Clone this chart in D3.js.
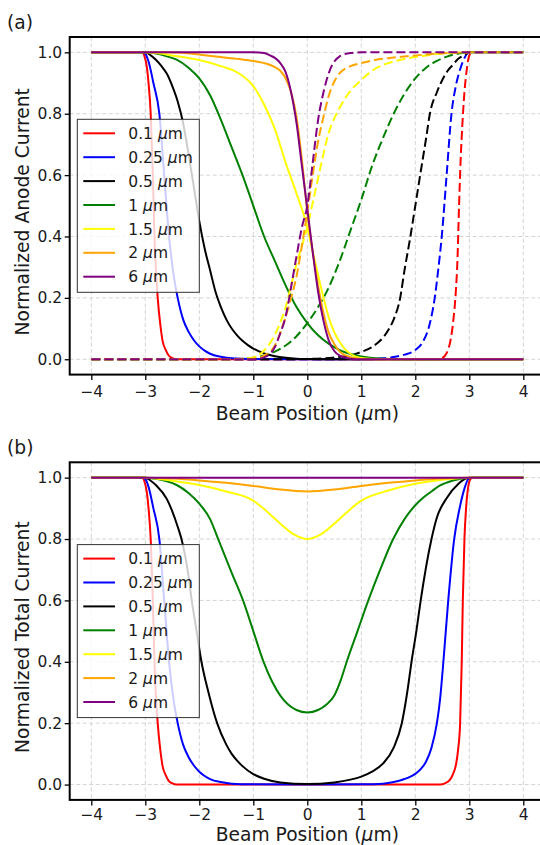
<!DOCTYPE html>
<html>
<head>
<meta charset="utf-8">
<script src="https://cdn.jsdelivr.net/npm/d3@7"></script>
<style>
  body { margin: 0; background: #fff; }
  svg { display: block; font-family: "DejaVu Sans", sans-serif; }
</style>
</head>
<body>
<svg id="chart" width="540" height="845"></svg>
<script>
// beam sizes shown in the legends
var sizes = ["0.1", "0.25", "0.5", "1", "1.5", "2", "6"];
var colors = ["#ff0000", "#0000ff", "#000000", "#008000", "#ffff00", "#ffa500", "#800080"];

var xTicks = [-4, -3, -2, -1, 0, 1, 2, 3, 4];
var yTicks = [0, 0.2, 0.4, 0.6, 0.8, 1.0];

// (a) anode current, solid curves  [beam position, current]
var anodeSolid01 = [[-4,1],[-3.06,1],[-3.02,0.99],[-2.97,0.95],[-2.94,0.9],[-2.9,0.8],[-2.86,0.6],[-2.83,0.4],[-2.77,0.2],[-2.72,0.11],[-2.68,0.06],[-2.62,0.03],[-2.57,0.013],[-2.5,0.004],[-2.42,0],[4,0]];
var anodeSolid025 = [[-4,1],[-3.05,1],[-3.0,0.995],[-2.94,0.97],[-2.85,0.9],[-2.74,0.8],[-2.65,0.6],[-2.56,0.4],[-2.48,0.28],[-2.4,0.2],[-2.3,0.13],[-2.2,0.09],[-2.1,0.062],[-2.0,0.042],[-1.9,0.028],[-1.8,0.018],[-1.6,0.008],[-1.4,0.003],[-1.0,0.001],[0,0],[4,0]];
var anodeSolid05 = [[-4,1],[-3.0,1],[-2.9,0.99],[-2.8,0.975],[-2.7,0.955],[-2.6,0.93],[-2.5,0.89],[-2.4,0.84],[-2.3,0.77],[-2.2,0.67],[-2.1,0.56],[-2.0,0.45],[-1.9,0.36],[-1.8,0.29],[-1.7,0.22],[-1.6,0.17],[-1.5,0.13],[-1.4,0.1],[-1.3,0.078],[-1.2,0.06],[-1.1,0.046],[-1.0,0.035],[-0.8,0.019],[-0.6,0.01],[-0.4,0.005],[-0.2,0.002],[0,0.001],[0.5,0],[4,0]];
var anodeSolid1 = [[-4,1],[-3.0,1],[-2.8,0.996],[-2.6,0.987],[-2.42,0.976],[-2.2,0.95],[-2.0,0.915],[-1.8,0.86],[-1.6,0.78],[-1.4,0.69],[-1.2,0.6],[-1.0,0.5],[-0.8,0.4],[-0.6,0.32],[-0.4,0.24],[-0.2,0.17],[0,0.118],[0.2,0.078],[0.4,0.05],[0.6,0.03],[0.8,0.017],[1.0,0.009],[1.2,0.004],[1.5,0.001],[2.0,0],[4,0]];
var anodeSolid15 = [[-4,1],[-3.0,1],[-2.8,0.998],[-2.5,0.99],[-2.0,0.975],[-1.6,0.955],[-1.3,0.935],[-1.0,0.89],[-0.8,0.83],[-0.6,0.75],[-0.4,0.64],[-0.2,0.54],[0,0.43],[0.1,0.35],[0.2,0.275],[0.3,0.2],[0.4,0.135],[0.5,0.088],[0.6,0.056],[0.7,0.032],[0.85,0.012],[1.0,0.004],[1.2,0.001],[1.5,0],[4,0]];
var anodeSolid2 = [[-4,1],[-2.6,1],[-2.0,0.993],[-1.74,0.987],[-1.25,0.978],[-1.0,0.972],[-0.75,0.963],[-0.6,0.952],[-0.5,0.94],[-0.4,0.915],[-0.3,0.87],[-0.2,0.79],[-0.1,0.65],[0,0.48],[0.1,0.35],[0.2,0.24],[0.3,0.15],[0.4,0.085],[0.5,0.05],[0.6,0.025],[0.75,0.01],[0.9,0.003],[1.1,0],[4,0]];
var anodeSolid6 = [[-4,1],[-1.0,1],[-0.8,0.998],[-0.69,0.99],[-0.6,0.982],[-0.5,0.965],[-0.4,0.935],[-0.3,0.87],[-0.2,0.77],[-0.1,0.63],[0,0.49],[0.1,0.35],[0.2,0.22],[0.3,0.125],[0.4,0.06],[0.5,0.027],[0.6,0.012],[0.8,0.002],[1.0,0],[4,0]];

// (a) anode current, dashed curves
var anodeDash01 = [[-4,0],[2.42,0],[2.5,0.004],[2.58,0.02],[2.65,0.06],[2.7,0.12],[2.75,0.22],[2.78,0.32],[2.81,0.5],[2.84,0.65],[2.87,0.76],[2.91,0.87],[2.95,0.94],[3.0,0.99],[3.05,1],[4,1]];
var anodeDash025 = [[-4,0],[0,0],[1.0,0.001],[1.4,0.003],[1.6,0.007],[1.8,0.015],[2.0,0.03],[2.15,0.06],[2.27,0.117],[2.36,0.2],[2.43,0.3],[2.49,0.4],[2.58,0.6],[2.67,0.8],[2.75,0.89],[2.84,0.95],[2.92,0.985],[3.0,1],[4,1]];
var anodeDash05 = [[-4,0],[-0.5,0],[0,0.001],[0.5,0.006],[0.85,0.015],[1.0,0.024],[1.2,0.04],[1.3,0.053],[1.4,0.07],[1.5,0.095],[1.6,0.13],[1.72,0.2],[1.8,0.29],[1.9,0.39],[2.0,0.5],[2.09,0.6],[2.2,0.72],[2.27,0.8],[2.4,0.87],[2.5,0.91],[2.6,0.94],[2.7,0.96],[2.8,0.98],[2.9,0.99],[3.0,1],[4,1]];
var anodeDash1 = [[-4,0],[-1.5,0],[-1.0,0.005],[-0.8,0.012],[-0.6,0.025],[-0.4,0.045],[-0.2,0.075],[0,0.118],[0.2,0.17],[0.4,0.235],[0.6,0.32],[0.8,0.42],[1.0,0.52],[1.2,0.63],[1.4,0.72],[1.6,0.8],[1.8,0.865],[2.0,0.915],[2.2,0.95],[2.4,0.972],[2.6,0.987],[2.8,0.996],[3.0,1],[4,1]];
var anodeDash15 = [[-4,0],[-1.5,0],[-1.2,0.002],[-1.0,0.006],[-0.85,0.02],[-0.7,0.05],[-0.6,0.08],[-0.5,0.12],[-0.4,0.17],[-0.3,0.24],[-0.2,0.31],[-0.1,0.37],[0,0.43],[0.1,0.51],[0.2,0.59],[0.3,0.67],[0.4,0.74],[0.5,0.785],[0.6,0.82],[0.8,0.875],[1.0,0.91],[1.2,0.94],[1.5,0.965],[1.84,0.98],[2.2,0.99],[2.5,0.996],[3.0,1],[4,1]];
var anodeDash2 = [[-4,0],[-1.3,0],[-1.0,0.002],[-0.8,0.012],[-0.6,0.045],[-0.44,0.117],[-0.3,0.2],[-0.2,0.27],[-0.1,0.37],[0,0.48],[0.1,0.6],[0.2,0.71],[0.3,0.79],[0.4,0.86],[0.5,0.905],[0.6,0.932],[0.8,0.955],[1.0,0.965],[1.25,0.975],[1.5,0.981],[1.84,0.987],[2.2,0.993],[2.6,0.998],[3.0,1],[4,1]];
var anodeDash6 = [[-4,0],[-1.0,0],[-0.8,0.006],[-0.6,0.04],[-0.5,0.085],[-0.4,0.14],[-0.3,0.235],[-0.2,0.335],[-0.1,0.43],[0,0.5],[0.1,0.64],[0.2,0.78],[0.3,0.87],[0.42,0.943],[0.5,0.97],[0.6,0.987],[0.8,0.998],[1.0,1],[4,1]];

// (b) total current
var total01 = [[-4,1],[-3.06,1],[-3.02,0.99],[-2.97,0.95],[-2.94,0.9],[-2.9,0.8],[-2.86,0.6],[-2.83,0.4],[-2.77,0.2],[-2.72,0.11],[-2.68,0.06],[-2.62,0.03],[-2.57,0.013],[-2.5,0.004],[-2.42,0],[2.46,0],[2.55,0.004],[2.64,0.015],[2.7,0.035],[2.75,0.062],[2.79,0.11],[2.83,0.2],[2.86,0.4],[2.88,0.6],[2.91,0.8],[2.94,0.9],[2.98,0.97],[3.02,0.995],[3.06,1],[4,1]];
var total025 = [[-4,1],[-3.05,1],[-3.0,0.995],[-2.94,0.97],[-2.85,0.9],[-2.74,0.8],[-2.65,0.6],[-2.56,0.4],[-2.48,0.28],[-2.4,0.2],[-2.3,0.13],[-2.2,0.09],[-2.1,0.062],[-2.0,0.042],[-1.9,0.028],[-1.8,0.018],[-1.6,0.008],[-1.4,0.003],[-1.0,0.001],[0,0],[1.0,0.001],[1.4,0.003],[1.6,0.008],[1.8,0.018],[1.9,0.025],[2.0,0.035],[2.1,0.05],[2.2,0.075],[2.3,0.12],[2.4,0.2],[2.46,0.28],[2.52,0.4],[2.61,0.6],[2.72,0.8],[2.82,0.9],[2.92,0.97],[2.98,0.995],[3.03,1],[4,1]];
var total05 = [[-4,1],[-3.0,1],[-2.9,0.99],[-2.8,0.975],[-2.6,0.93],[-2.5,0.89],[-2.4,0.84],[-2.33,0.8],[-2.2,0.68],[-2.14,0.6],[-2.05,0.5],[-1.96,0.4],[-1.83,0.3],[-1.67,0.2],[-1.5,0.13],[-1.4,0.1],[-1.3,0.078],[-1.2,0.06],[-1.0,0.034],[-0.8,0.019],[-0.5,0.007],[0,0.002],[0.5,0.007],[0.8,0.016],[1.0,0.026],[1.2,0.042],[1.4,0.068],[1.6,0.12],[1.75,0.2],[1.85,0.3],[1.93,0.4],[2.02,0.5],[2.1,0.6],[2.3,0.8],[2.4,0.87],[2.58,0.933],[2.8,0.98],[2.95,0.998],[3.05,1],[4,1]];
var total1 = [[-4,1],[-3.0,1],[-2.8,0.996],[-2.6,0.988],[-2.42,0.976],[-2.2,0.95],[-2.0,0.915],[-1.8,0.865],[-1.65,0.8],[-1.4,0.69],[-1.19,0.6],[-1.0,0.5],[-0.81,0.4],[-0.65,0.335],[-0.5,0.29],[-0.35,0.26],[-0.2,0.243],[0,0.235],[0.2,0.243],[0.35,0.26],[0.5,0.29],[0.62,0.34],[0.73,0.4],[0.93,0.5],[1.13,0.6],[1.35,0.7],[1.59,0.8],[1.8,0.865],[2.0,0.91],[2.15,0.935],[2.3,0.955],[2.46,0.975],[2.6,0.985],[2.8,0.995],[3.0,1],[4,1]];
var total15 = [[-4,1],[-3.0,1],[-2.5,0.99],[-2.0,0.976],[-1.5,0.955],[-1.0,0.925],[-0.75,0.89],[-0.5,0.85],[-0.25,0.815],[0,0.8],[0.25,0.815],[0.5,0.85],[0.75,0.89],[1.0,0.925],[1.5,0.958],[2.0,0.98],[2.5,0.993],[3.0,1],[4,1]];
var total2 = [[-4,1],[-3,1],[-2.5,0.997],[-2,0.991],[-1.5,0.983],[-1,0.973],[-0.5,0.961],[0,0.955],[0.5,0.961],[1,0.973],[1.5,0.983],[2,0.991],[2.5,0.997],[3,1],[4,1]];
var total6 = [[-4,1],[-2,1],[0,1],[2,1],[4,1]];

var anodeSolid = [anodeSolid01, anodeSolid025, anodeSolid05, anodeSolid1, anodeSolid15, anodeSolid2, anodeSolid6];
var anodeDash = [anodeDash01, anodeDash025, anodeDash05, anodeDash1, anodeDash15, anodeDash2, anodeDash6];
var totals = [total01, total025, total05, total1, total15, total2, total6];

var svg = d3.select("#chart");
var x = d3.scaleLinear().domain([-4.4, 4.4]).range([69.7, 544.9]);

function drawPanel(top, tag, ylabel, solids, dashes, xPad, xLabelY) {
  var bottom = top + 337.6;
  var y = d3.scaleLinear().domain([-0.05, 1.05]).range([bottom, top]);
  var g = svg.append("g");

  svg.append("clipPath").attr("id", "clip" + tag)
    .append("rect")
    .attr("x", x.range()[0]).attr("y", top)
    .attr("width", x.range()[1] - x.range()[0]).attr("height", bottom - top);

  // grid
  var grid = g.append("g").attr("stroke", "#d4d4d4").attr("stroke-width", 1).attr("stroke-dasharray", "4,2.5");
  grid.selectAll(".gx").data(xTicks).join("line")
    .attr("x1", function(d) { return x(d); }).attr("x2", function(d) { return x(d); })
    .attr("y1", top).attr("y2", bottom);
  grid.selectAll(".gy").data(yTicks).join("line")
    .attr("x1", x.range()[0]).attr("x2", x.range()[1])
    .attr("y1", function(d) { return y(d); }).attr("y2", function(d) { return y(d); });

  var line = d3.line()
    .x(function(d) { return x(d[0]); })
    .y(function(d) { return y(d[1]); })
    .curve(d3.curveMonotoneX);

  var plot = g.append("g").attr("clip-path", "url(#clip" + tag + ")")
    .attr("fill", "none").attr("stroke-width", 2);
  for (var i = 0; i < solids.length; i++) {
    plot.append("path").attr("d", line(solids[i])).attr("stroke", colors[i]);
    if (dashes)
      plot.append("path").attr("d", line(dashes[i])).attr("stroke", colors[i])
        .attr("stroke-dasharray", "9,4");
  }

  // axes
  var xAxis = g.append("g").attr("transform", "translate(0," + bottom + ")")
    .call(d3.axisBottom(x).tickValues(xTicks).tickFormat(d3.format("d")).tickSize(5.5).tickPadding(xPad));
  var yAxis = g.append("g").attr("transform", "translate(" + x.range()[0] + ",0)")
    .call(d3.axisLeft(y).tickValues(yTicks).tickFormat(d3.format(".1f")).tickSize(5).tickPadding(2.5));
  [xAxis, yAxis].forEach(function(a) {
    a.select(".domain").remove();
    a.selectAll(".tick line").attr("stroke", "#000").attr("stroke-width", 1.3);
    a.selectAll(".tick text").attr("fill", "#1a1a1a").style("font-size", "15.5px")
      .style("font-family", "'DejaVu Sans', sans-serif");
  });

  // spines
  var sp = g.append("g").attr("stroke", "#000").attr("stroke-width", 2);
  sp.append("rect").attr("x", x.range()[0]).attr("y", top)
    .attr("width", x.range()[1] - x.range()[0]).attr("height", bottom - top).attr("fill", "none");

  // labels
  var xl = g.append("text").attr("x", (x.range()[0] + x.range()[1]) / 2)
    .attr("y", xLabelY)
    .attr("text-anchor", "middle").style("font-size", "18.7px").attr("fill", "#1a1a1a");
  xl.append("tspan").text("Beam Position (");
  xl.append("tspan").attr("font-style", "italic").text("\u03bc");
  xl.append("tspan").text("m)");

  g.append("text")
    .attr("transform", "translate(29," + ((top + bottom) / 2 + 6) + ") rotate(-90)")
    .attr("text-anchor", "middle").style("font-size", "18.7px").attr("fill", "#1a1a1a")
    .text(ylabel);

  g.append("text").attr("x", 7).attr("y", top - 8).style("font-size", "18.7px")
    .attr("fill", "#1a1a1a").text("(" + tag + ")");

  // legend
  var lx = 77.3, ly = top + 82.3;
  var leg = g.append("g");
  leg.append("rect").attr("x", lx).attr("y", ly).attr("width", 122).attr("height", 173)
    .attr("fill", "#fff").attr("fill-opacity", 0.8).attr("stroke", "#333").attr("stroke-width", 1);
  var rows = leg.selectAll(".row").data(sizes).join("g")
    .attr("transform", function(d, i) { return "translate(0," + (ly + 14 + i * 23.9) + ")"; });
  rows.append("line").attr("x1", lx + 6).attr("x2", lx + 37.7)
    .attr("stroke", function(d, i) { return colors[i]; }).attr("stroke-width", 2);
  var t = rows.append("text").attr("x", lx + 51).attr("y", 5.6)
    .style("font-size", "15.5px").attr("fill", "#1a1a1a");
  t.append("tspan").text(function(d) { return d + " "; });
  t.append("tspan").attr("font-style", "italic").text("\u03bc");
  t.append("tspan").text("m");
}

drawPanel(37, "a", "Normalized Anode Current", anodeSolid, anodeDash, 6, 420.1);
drawPanel(462.3, "b", "Normalized Total Current", totals, null, 3.5, 840.8);
</script>
</body>
</html>
